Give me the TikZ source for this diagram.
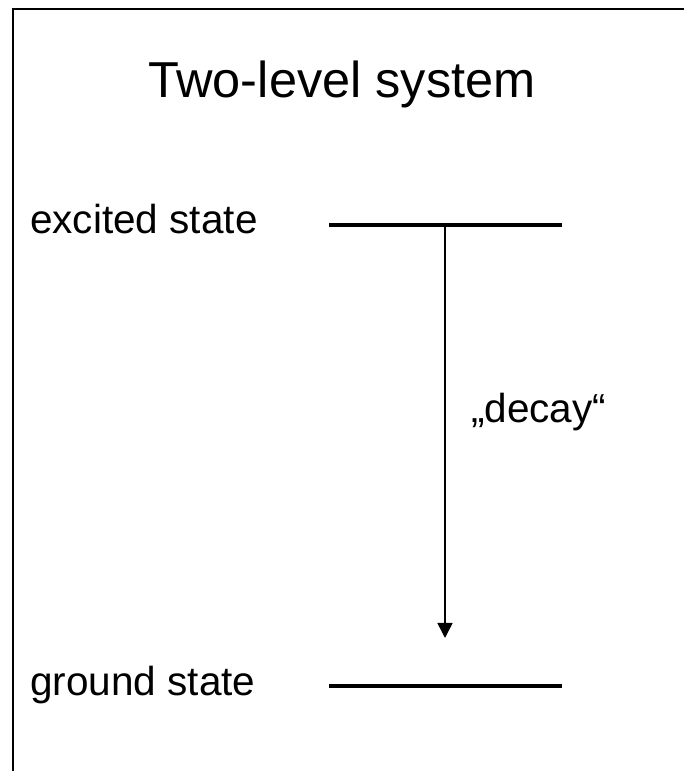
\documentclass[tikz,border=0pt]{standalone}
\usepackage{fontspec}
\setmainfont{Liberation Sans}
\usetikzlibrary{arrows.meta}
\begin{document}
\begin{tikzpicture}[x=1pt,y=1pt,
  lbl/.style={inner sep=0pt, anchor=base west, font=\fontsize{40.5}{48}\selectfont},
  level/.style={line width=4pt},
  frameline/.style={line width=2.2pt}]
\useasboundingbox (0,0) rectangle (684,771);
% frame (only top and left visible)
\coordinate (fbl) at (13,0);
\coordinate (ftl) at (13,762);
\coordinate (ftr) at (684,762);
\draw[frameline] (fbl) -- (ftl) -- (ftr);
% title
\node[inner sep=0pt, anchor=base, font=\fontsize{50.5}{58}\selectfont] (title) at (342,673) {Two-level system};
% labels
\node[lbl] (exc) at (30,537) {excited state};
\node[lbl] (gnd) at (30,75) {ground state};
% levels
\coordinate (e1) at (329,546);
\coordinate (e2) at (562,546);
\coordinate (g1) at (329,85);
\coordinate (g2) at (562,85);
\draw[level] (e1) -- (e2);
\draw[level] (g1) -- (g2);
% decay arrow
\coordinate (astart) at (445,546);
\coordinate (aend) at (445,133);
\draw[line width=1.5pt, -{Triangle[length=15pt,width=15pt]}] (astart) -- (aend);
\node[lbl] (decay) at (471,348) {„decay“};
\end{tikzpicture}
\end{document}
